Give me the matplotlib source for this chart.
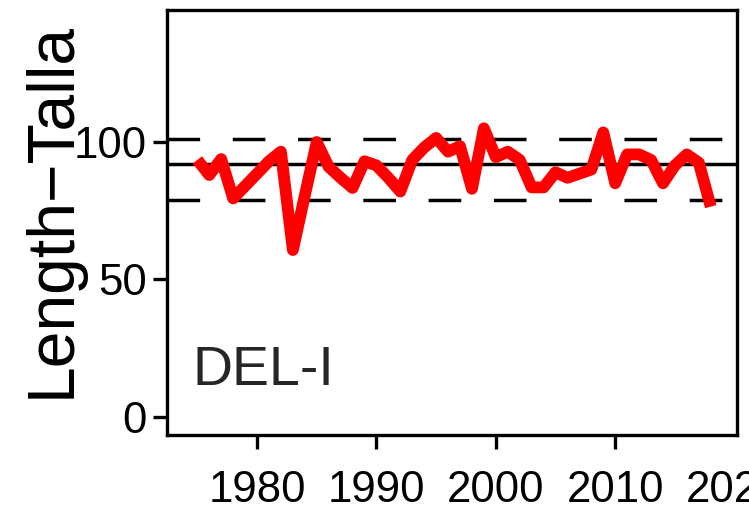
import matplotlib

matplotlib.use("Agg")
import matplotlib.pyplot as plt

plt.rcParams["font.family"] = ["Liberation Sans", "DejaVu Sans"]

# length series
years = list(range(1975, 2019))
length = [
    93.5, 88.0, 93.8, 79.5, 84.0, 88.5, 93.0, 96.5, 60.7, 80.5,
    100.0, 91.0, 87.0, 83.3, 93.0, 91.5, 87.0, 82.0, 93.5, 98.0,
    101.5, 96.5, 98.5, 83.0, 105.0, 94.5, 96.5, 93.5, 83.5, 83.5,
    89.0, 87.0, 88.5, 90.0, 103.5, 85.0, 95.5, 95.5, 93.5, 85.0,
    91.5, 95.5, 92.5, 76.5,
]
ref_mean = 92.0
ref_upper = 101.1
ref_lower = 79.0

xticks = [1980, 1990, 2000, 2010, 2020]
yticks = [0, 50, 100]
panel_label = "DEL-I"
ylabel = "Length\u2212Talla"


def main() -> None:
    fig = plt.figure(figsize=(7.49, 5.07), dpi=100)
    ax = fig.add_axes([0.2236, 0.142, 0.7604, 0.838])

    ax.axhline(ref_mean, color="black", lw=2.5)
    for yv in (ref_upper, ref_lower):
        ax.axhline(yv, color="black", lw=2.5, dashes=(9.4, 9.4))

    ax.plot(years, length, color="#ff0000", lw=8.5,
            solid_capstyle="butt", solid_joinstyle="round")

    ax.text(1974.6, 11.6, panel_label, fontsize=40, color="#262626",
            ha="left", va="baseline")

    ax.set_xlim(1972.5, 2020.2)
    ax.set_ylim(-6.6, 148)
    ax.set_xticks(xticks)
    ax.set_yticks(yticks)
    ax.tick_params(axis="both", width=2.4, length=10, color="black",
                   labelsize=31.5, direction="out")
    ax.tick_params(axis="x", pad=15)
    ax.tick_params(axis="y", pad=5)
    ax.xaxis.get_major_ticks()[-1].tick1line.set_visible(False)
    for sp in ax.spines.values():
        sp.set_linewidth(2.4)

    fig.text(70 / 749, 1 - 210.5 / 507, ylabel, fontsize=47.5,
             rotation=90, rotation_mode="anchor", ha="center", va="baseline")

    fig.savefig("out.png", dpi=100)


if __name__ == "__main__":
    main()
